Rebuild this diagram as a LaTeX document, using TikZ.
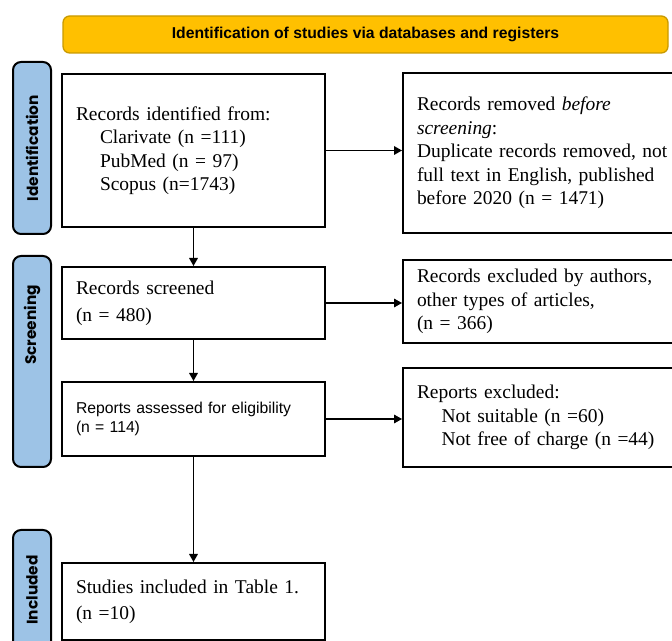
\documentclass[tikz,border=0pt]{standalone}
\usepackage{fontspec}
\setmainfont{Liberation Serif}
\setsansfont{Liberation Sans}
\newfontfamily\tabfont{Poppins}
\usetikzlibrary{arrows.meta}
\definecolor{hdrfill}{HTML}{FFC000}
\definecolor{hdrline}{HTML}{C99A00}
\definecolor{tabfill}{HTML}{9DC3E6}
\begin{document}
\begin{tikzpicture}[x=0.75pt,y=-0.75pt,
  box/.style={draw=black, line width=1.5pt, inner xsep=10.5pt, inner ysep=0pt,
    align=left, anchor=center, font=\fontsize{14.6}{17.6}\selectfont},
  lbox/.style={box, minimum width=197.25pt, text width=176.25pt},
  rbox/.style={box, minimum width=222.75pt, text width=201.75pt},
  tabbox/.style={draw=black, line width=1.5pt, fill=tabfill, rounded corners=6pt,
    minimum width=28.5pt, inner sep=0pt},
  tablabel/.style={rotate=90, inner sep=0pt, font=\tabfont\bfseries\fontsize{11.5}{13}\selectfont},
  hdr/.style={draw=hdrline, line width=1pt, fill=hdrfill, rounded corners=5pt,
    minimum width=453.75pt, minimum height=27.75pt, inner sep=0pt,
    font=\sffamily\bfseries\fontsize{11.8}{14}\selectfont},
  arr/.style={draw=black, line width=0.9pt, -{Triangle[length=6pt,width=6.5pt]}},
  ln/.style={draw=black, line width=0.9pt}
]
\useasboundingbox (0,0) rectangle (672,641);
\clip (0,0) rectangle (672,641);

% header
\node[hdr] (hdr) at (365.5,34.5) {Identification of studies via databases and registers};

% side tabs
\node[tabbox, minimum height=129pt] (tabI) at (32,148) {};
\node[tabbox, minimum height=158.25pt] (tabS) at (32,361.5) {};
\node[tabbox, minimum height=112.5pt] (tabN) at (32,605) {};
\node[tablabel] (labI) at (32,148) {Identification};
\node[tablabel] (labS) at (32,325) {Screening};
\node[tablabel] (labN) at (32,590) {Included};

% left column
\node[lbox, minimum height=114.75pt] (b1) at (193.5,150.5)
  {Records identified from:\\
   \hspace*{18pt}Clarivate (n =111)\\
   \hspace*{18pt}PubMed (n = 97)\\
   \hspace*{18pt}Scopus (n=1743)};
\node[lbox, minimum height=54pt] (b2) at (193.5,303)
  {Records screened\\[2.6pt](n = 480)};
\node[lbox, minimum height=55.5pt, font=\sffamily\fontsize{11.8}{14.2}\selectfont] (b3) at (193.5,419)
  {Reports assessed for eligibility\\(n = 114)};
\node[lbox, minimum height=57.75pt] (b4) at (193.5,601.5)
  {Studies included in Table 1.\\[2pt](n =10)};

% right column
\node[rbox, minimum height=120pt] (r1) at (551.5,153)
  {Records removed \textit{before}\\
   \textit{screening}:\\
   Duplicate records removed, not\\
   full text in English, published\\
   before 2020 (n = 1471)};
\node[rbox, minimum height=62.25pt] (r2) at (551.5,301.5)
  {Records excluded by authors,\\
   other types of articles,\\
   (n = 366)};
\node[rbox, minimum height=74.25pt] (r3) at (551.5,417.5)
  {Reports excluded:\\
   \hspace*{18.5pt}Not suitable (n =60)\\
   \hspace*{18.5pt}Not free of charge (n =44)};

% connectors
\draw[arr] (b1.east) -- (b1.east -| r1.west);
\draw[arr] (b2.east) -- (b2.east -| r2.west);
\draw[arr] (b3.east) -- (b3.east -| r3.west);
\draw[arr] (b1.south) -- (b2.north);
\draw[arr] (b2.south) -- (b3.north);
\draw[arr] (b3.south) -- (b4.north);
\end{tikzpicture}
\end{document}
